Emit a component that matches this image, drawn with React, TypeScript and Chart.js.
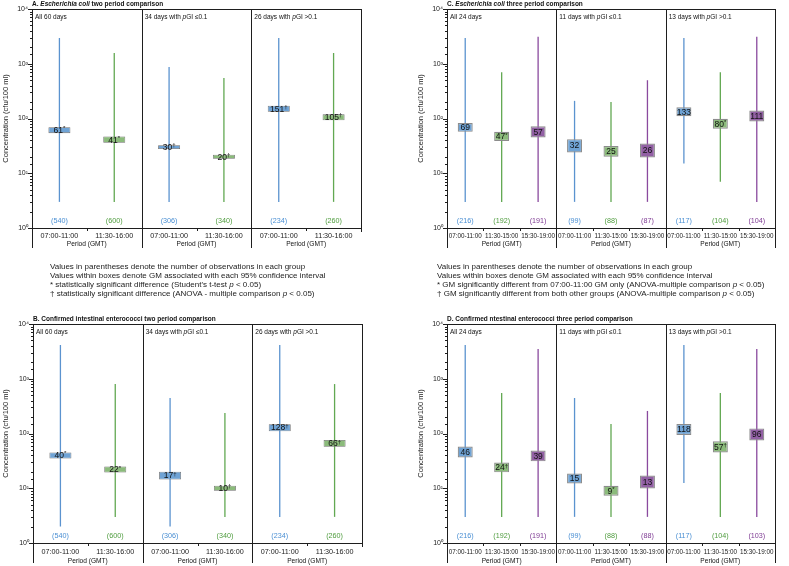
import React, { useEffect, useRef } from "react";
import { Chart, registerables } from "chart.js";

Chart.register(...registerables);

const FONT = "'Liberation Sans', Arial, Helvetica, sans-serif";
Chart.defaults.font.family = FONT;

// ---------- data ----------
const periodsTwo = ["07:00-11:00", "11:30-16:00"];
const periodsThree = ["07:00-11:00", "11:30-15:00", "15:30-19:00"];
const yAxisTitle = "Concentration (cfu/100 ml)";
const xAxisTitle = "Period (GMT)";

const titleA = "A. Escherichia coli two period comparison";
const subsA = ["All 60 days", "34 days with pGI ≤0.1", "26 days with pGI >0.1"];
const lowA = [3, 3, 3, 3, 3, 3];
const highA = [2950, 1570, 870, 550, 2950, 1570];
const gmA = [61, 41, 30, 20, 151, 105];
const ciLowA = [54, 36, 27.6, 18.4, 133, 93];
const ciHighA = [69, 47, 32.6, 21.8, 171, 119];
const markA = ["*", "*", "†", "†", "†", "†"];
const nA = [540, 600, 306, 340, 234, 260];

const titleB = "B. Confirmed intestinal enterococci two period comparison";
const subsB = ["All 60 days", "34 days with pGI ≤0.1", "26 days with pGI >0.1"];
const lowB = [2, 3, 2, 3, 3, 3];
const highB = [4130, 800, 445, 237, 4130, 800];
const gmB = [40, 22, 17, 10, 128, 66];
const ciLowB = [35, 19.4, 14.4, 9, 110, 57];
const ciHighB = [45, 25, 20.1, 11.1, 148, 76];
const markB = ["*", "*", "†", "†", "†", "†"];
const nB = [540, 600, 306, 340, 234, 260];

const titleC = "C. Escherichia coli three period comparison";
const subsC = ["All 24 days", "11 days with pGI ≤0.1", "13 days with pGI >0.1"];
const lowC = [3, 3, 3, 3, 3, 3, 15, 7, 3];
const highC = [2950, 700, 3100, 210, 200, 500, 2950, 700, 3100];
const gmC = [69, 47, 57, 32, 25, 26, 133, 80, 111];
const ciLowC = [57, 39, 45, 24, 20, 19.4, 110, 65, 88];
const ciHighC = [83, 57, 72, 42, 31.5, 35, 161, 99, 140];
const markC = ["", "*", "", "", "", "", "", "*", ""];
const nC = [216, 192, 191, 99, 88, 87, 117, 104, 104];

const titleD = "D. Confirmed ntestinal enterococci three period comparison";
const subsD = ["All 24 days", "11 days with pGI ≤0.1", "13 days with pGI >0.1"];
const lowD = [3, 3, 3, 3, 3, 3, 12.5, 3, 3];
const highD = [4130, 550, 3490, 445, 149, 258, 4130, 550, 3490];
const gmD = [46, 24, 39, 15, 9, 13, 118, 57, 96];
const ciLowD = [36.5, 19.5, 31, 12.2, 7.3, 9.9, 94, 45, 74.5];
const ciHighD = [58, 29.6, 49, 18.5, 11.1, 17.1, 149, 72, 124];
const markD = ["", "†", "", "", "*", "", "", "†", ""];
const nD = [216, 192, 191, 99, 88, 88, 117, 104, 103];

const notesLeft = [
  "Values in parentheses denote the number of observations in each group",
  "Values within boxes denote GM associated with each 95% confidence interval",
  "* statistically significant difference (Student's t-test p < 0.05)",
  "† statistically significant difference (ANOVA - multiple comparison p < 0.05)",
];
const notesRight = [
  "Values in parentheses denote the number of observations in each group",
  "Values within boxes denote GM associated with each 95% confidence interval",
  "* GM significantly different from 07:00-11:00 GM only (ANOVA-multiple comparison p < 0.05)",
  "† GM significantly different from both other groups (ANOVA-multiple comparison p < 0.05)",
];

// ---------- styles ----------
const lineColors = ["#5b93cf", "#62a852", "#8a4a9e"];
const boxColors = ["#6fa3d5", "#8bbb7b", "#9260a4"];
const nColors = ["#4a8fd3", "#4f9c3e", "#7e3a93"];
const SUP = ["⁰", "¹", "²", "³", "⁴"];

type PanelData = {
  title: string;
  subs: string[];
  periods: string[];
  low: number[];
  high: number[];
  gm: number[];
  ciLow: number[];
  ciHigh: number[];
  marks: string[];
  n: number[];
};

type Geo = {
  left: number;
  top: number;
  w: number;
  h: number;
  padTop: number;
  padRight: number;
  yW: number;
  xH: number;
  tickPad: number;
  tickSize: number;
  boxW: number;
  boxBorder: string;
  boxBorderW: number;
  periodDy: number;
  rightExt: number;
};

const panels: { d: PanelData; g: Geo }[] = [
  {
    d: { title: titleA, subs: subsA, periods: periodsTwo, low: lowA, high: highA, gm: gmA, ciLow: ciLowA, ciHigh: ciHighA, marks: markA, n: nA },
    g: { left: 0, top: 0, w: 390, h: 252, padTop: 9, padRight: 29, yW: 32, xH: 24, tickPad: 4, tickSize: 7.2, boxW: 22, boxBorder: "#6d6d6d", boxBorderW: 0.8, periodDy: 16.5, rightExt: 4 },
  },
  {
    d: { title: titleB, subs: subsB, periods: periodsTwo, low: lowB, high: highB, gm: gmB, ciLow: ciLowB, ciHigh: ciHighB, marks: markB, n: nB },
    g: { left: 0, top: 314, w: 390, h: 252, padTop: 10, padRight: 28, yW: 33, xH: 23, tickPad: 5, tickSize: 7.2, boxW: 22, boxBorder: "#6d6d6d", boxBorderW: 0.8, periodDy: 18.5, rightExt: 4 },
  },
  {
    d: { title: titleC, subs: subsC, periods: periodsThree, low: lowC, high: highC, gm: gmC, ciLow: ciLowC, ciHigh: ciHighC, marks: markC, n: nC },
    g: { left: 415, top: 0, w: 374, h: 252, padTop: 9, padRight: 14, yW: 32, xH: 24, tickPad: 4, tickSize: 6.3, boxW: 15, boxBorder: "#8c8c8c", boxBorderW: 1.2, periodDy: 16.5, rightExt: 20 },
  },
  {
    d: { title: titleD, subs: subsD, periods: periodsThree, low: lowD, high: highD, gm: gmD, ciLow: ciLowD, ciHigh: ciHighD, marks: markD, n: nD },
    g: { left: 415, top: 314, w: 374, h: 252, padTop: 10, padRight: 14, yW: 32, xH: 23, tickPad: 5, tickSize: 6.3, boxW: 15, boxBorder: "#8c8c8c", boxBorderW: 1.2, periodDy: 18.5, rightExt: 20 },
  },
];

function drawRich(ctx: CanvasRenderingContext2D, text: string, x: number, y: number, size: number, bold: boolean) {
  const parts = text.split(/(Escherichia coli|p(?=GI))/);
  let cx = x;
  ctx.textAlign = "left";
  ctx.textBaseline = "middle";
  parts.forEach((p, idx) => {
    if (!p) return;
    const it = idx % 2 === 1;
    ctx.font = `${it ? "italic " : ""}${bold ? "bold " : ""}${size}px ${FONT}`;
    ctx.fillText(p, cx, y);
    cx += ctx.measureText(p).width;
  });
}

function makeDeco(d: PanelData, g: Geo) {
  return {
    id: "deco",
    afterDraw(chart: any) {
      const ctx: CanvasRenderingContext2D = chart.ctx;
      const { left, right, top, bottom } = chart.chartArea;
      const xs = chart.scales.x;
      const ys = chart.scales.y;
      const k = d.periods.length;
      const nCat = d.gm.length;
      const nSub = nCat / k;
      const px = (i: number) => xs.getPixelForValue(i);
      const edge = (i: number) => (px(i - 1) + px(i)) / 2;
      const r = (v: number) => Math.round(v) + 0.5;
      const line = (x1: number, y1: number, x2: number, y2: number) => {
        ctx.beginPath();
        ctx.moveTo(x1, y1);
        ctx.lineTo(x2, y2);
        ctx.stroke();
      };
      ctx.save();
      ctx.strokeStyle = "#1e1e1e";
      ctx.lineWidth = 1;
      const ext = 20;
      line(left, r(top), right + 0.5, r(top));
      line(left - 0.5, r(bottom), right + 0.5, r(bottom));
      line(r(left), top, r(left), bottom + ext);
      line(r(right), top, r(right), bottom + g.rightExt);
      for (let s = 1; s < nSub; s++) {
        const bx = r(edge(s * k));
        line(bx, top, bx, bottom + ext);
      }
      for (let i = 1; i < nCat; i++) {
        if (i % k === 0) continue;
        const bx = r(edge(i));
        line(bx, bottom, bx, bottom + 3);
      }
      ys.ticks.forEach((t: any) => {
        const v = t.value;
        const l = Math.log10(v);
        const major = Math.abs(l - Math.round(l)) < 1e-6;
        const yy = r(ys.getPixelForValue(v));
        line(left - (major ? 4 : 2), yy, left, yy);
      });

      ctx.fillStyle = "#111";
      drawRich(ctx, d.title, left, top - 5, 6.5, true);
      for (let s = 0; s < nSub; s++) {
        const x0 = s === 0 ? left : edge(s * k);
        const x1 = s === nSub - 1 ? right : edge((s + 1) * k);
        ctx.fillStyle = "#111";
        drawRich(ctx, d.subs[s], x0 + 3, top + 8.5, 6.5, false);
        ctx.font = `6.6px ${FONT}`;
        ctx.textAlign = "center";
        ctx.textBaseline = "middle";
        ctx.fillText(xAxisTitle, (x0 + x1) / 2, bottom + g.periodDy);
      }
      ctx.textAlign = "center";
      ctx.textBaseline = "middle";
      ctx.font = `7.2px ${FONT}`;
      d.n.forEach((n, i) => {
        ctx.fillStyle = nColors[i % k];
        ctx.fillText(`(${n})`, px(i), bottom - 6.5);
      });
      d.gm.forEach((gm, i) => {
        const num = String(gm);
        const mk = d.marks[i];
        ctx.font = `8.5px ${FONT}`;
        const w1 = ctx.measureText(num).width;
        ctx.font = `6px ${FONT}`;
        const w2 = mk ? ctx.measureText(mk).width : 0;
        const sx = px(i) - (w1 + w2) / 2;
        const cy = ys.getPixelForValue(gm);
        ctx.fillStyle = "#111";
        ctx.textAlign = "left";
        ctx.textBaseline = "middle";
        ctx.font = `8.5px ${FONT}`;
        ctx.fillText(num, sx, cy + 0.5);
        if (mk) {
          ctx.font = `6px ${FONT}`;
          ctx.fillText(mk, sx + w1, cy - 1.5);
        }
      });
      ctx.restore();
    },
  };
}

function Panel({ d, g }: { d: PanelData; g: Geo }) {
  const ref = useRef<HTMLCanvasElement>(null);
  useEffect(() => {
    const k = d.periods.length;
    const labels: string[] = [];
    d.subs.forEach(() => d.periods.forEach((p) => labels.push(p)));
    const chart = new Chart(ref.current as HTMLCanvasElement, {
      type: "bar",
      data: {
        labels,
        datasets: [
          {
            data: d.ciLow.map((v, i) => [v, d.ciHigh[i]]) as any,
            backgroundColor: labels.map((_, i) => boxColors[i % k]),
            borderColor: g.boxBorder,
            borderWidth: g.boxBorderW,
            borderSkipped: false,
            barThickness: g.boxW,
            inflateAmount: 0,
            grouped: false,
            order: 1,
          } as any,
          {
            data: d.low.map((v, i) => [v, d.high[i]]) as any,
            backgroundColor: labels.map((_, i) => lineColors[i % k]),
            borderWidth: 0,
            barThickness: 1.3,
            inflateAmount: 0,
            grouped: false,
            order: 2,
          } as any,
        ],
      },
      options: {
        responsive: false,
        animation: false,
        events: [],
        layout: { padding: { left: 0, top: g.padTop, right: g.padRight, bottom: 0 } },
        plugins: { legend: { display: false }, tooltip: { enabled: false } },
        scales: {
          x: {
            type: "category",
            offset: true,
            grid: { display: false, drawTicks: false },
            border: { display: false },
            ticks: {
              autoSkip: false,
              maxRotation: 0,
              minRotation: 0,
              padding: g.tickPad,
              color: "#1a1a1a",
              font: { size: g.tickSize, family: FONT },
            },
            afterFit: (s: any) => {
              s.height = g.xH;
            },
          },
          y: {
            type: "logarithmic",
            min: 1,
            max: 10000,
            grid: { display: false, drawTicks: false },
            border: { display: false },
            ticks: {
              autoSkip: false,
              padding: 4,
              color: "#1a1a1a",
              font: { size: 7, family: FONT },
              callback: (v: any) => {
                const l = Math.log10(Number(v));
                const rl = Math.round(l);
                return Math.abs(l - rl) < 1e-6 ? "10" + SUP[rl] : "";
              },
            },
            title: {
              display: true,
              text: yAxisTitle,
              color: "#1a1a1a",
              font: { size: 7.5, family: FONT },
              padding: { top: 1, bottom: 0 },
            },
            afterFit: (s: any) => {
              s.width = g.yW;
            },
          },
        } as any,
      },
      plugins: [makeDeco(d, g)],
    });
    return () => chart.destroy();
  }, []);
  return (
    <canvas
      ref={ref}
      width={g.w}
      height={g.h}
      style={{ position: "absolute", left: g.left, top: g.top, width: g.w, height: g.h }}
    />
  );
}

function NoteLine({ text }: { text: string }) {
  const parts = text.split(/(\bp)(?= <)/);
  return (
    <div>
      {parts.map((p, i) => (i % 2 === 1 ? <i key={i}>{p}</i> : <span key={i}>{p}</span>))}
    </div>
  );
}

function Notes({ lines, left }: { lines: string[]; left: number }) {
  return (
    <div
      style={{
        position: "absolute",
        left,
        top: 261.5,
        fontFamily: FONT,
        fontSize: 8,
        lineHeight: "9.1px",
        color: "#222",
        whiteSpace: "nowrap",
        willChange: "transform",
      }}
    >
      {lines.map((l, i) => (
        <NoteLine key={i} text={l} />
      ))}
    </div>
  );
}

export default function App() {
  return (
    <div style={{ position: "absolute", left: 0, top: 0, width: 789, height: 566, background: "#fff", overflow: "hidden" }}>
      {panels.map((p, i) => (
        <Panel key={i} d={p.d} g={p.g} />
      ))}
      <Notes lines={notesLeft} left={50} />
      <Notes lines={notesRight} left={437} />
    </div>
  );
}
